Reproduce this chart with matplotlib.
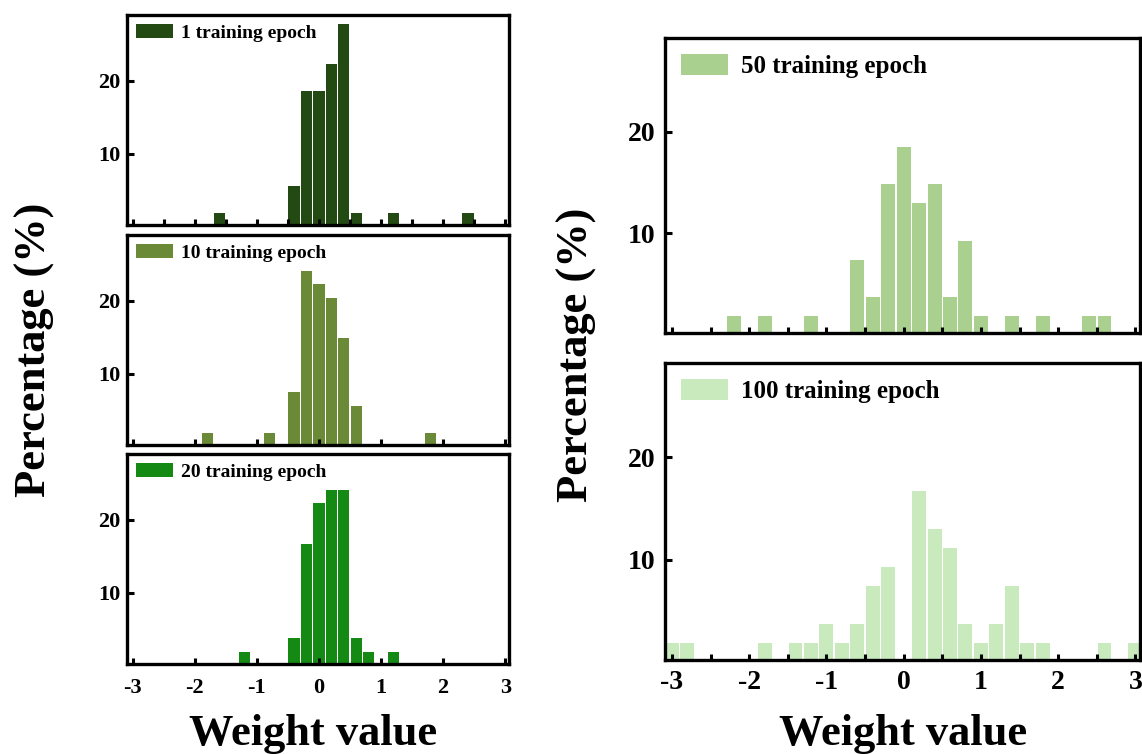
import matplotlib.pyplot as plt
from matplotlib.ticker import MultipleLocator

plt.rcParams['font.family'] = ['Liberation Serif', 'DejaVu Serif']
plt.rcParams['font.weight'] = 'bold'

# bin centres (weight value) and percentage of weights per bin
ep1_x = [-1.6, -0.4, -0.2, 0.0, 0.2, 0.4, 0.6, 1.2, 2.4]
ep1_y = [1.85, 5.56, 18.52, 18.52, 22.22, 27.78, 1.85, 1.85, 1.85]

ep10_x = [-1.8, -0.8, -0.4, -0.2, 0.0, 0.2, 0.4, 0.6, 1.8]
ep10_y = [1.85, 1.85, 7.41, 24.07, 22.22, 20.37, 14.81, 5.56, 1.85]

ep20_x = [-1.2, -0.4, -0.2, 0.0, 0.2, 0.4, 0.6, 0.8, 1.2]
ep20_y = [1.85, 3.70, 16.67, 22.22, 24.07, 24.07, 3.70, 1.85, 1.85]

ep50_x = [-2.2, -1.8, -1.2, -0.6, -0.4, -0.2, 0.0, 0.2, 0.4, 0.6, 0.8,
          1.0, 1.4, 1.8, 2.4, 2.6]
ep50_y = [1.85, 1.85, 1.85, 7.41, 3.70, 14.81, 18.52, 12.96, 14.81, 3.70,
          9.26, 1.85, 1.85, 1.85, 1.85, 1.85]

ep100_x = [-3.0, -2.8, -1.8, -1.4, -1.2, -1.0, -0.8, -0.6, -0.4, -0.2,
           0.2, 0.4, 0.6, 0.8, 1.0, 1.2, 1.4, 1.6, 1.8, 2.6, 3.0]
ep100_y = [1.85, 1.85, 1.85, 1.85, 1.85, 3.70, 1.85, 3.70, 7.41, 9.26,
           16.67, 12.96, 11.11, 3.70, 1.85, 3.70, 7.41, 1.85, 1.85, 1.85, 1.85]

xticks = [-3, -2, -1, 0, 1, 2, 3]
xticklabels = ['-3', '-2', '-1', '0', '1', '2', '3']
labels = ['1 training epoch', '10 training epoch', '20 training epoch',
          '50 training epoch', '100 training epoch']
colors = ['#244a14', '#6a8a38', '#148a14', '#a9d08e', '#c8eabd']

W, H = 1142, 754


def rect(l, t, r, b):
    return [l / W, 1 - b / H, (r - l) / W, (b - t) / H]


def panel(ax, x, y, color, label, big, xlabels, minor):
    ax.bar(x, y, width=0.18, color=color, edgecolor='none', label=label)
    ax.set_ylim(0.2, 29.2 if big else 29.0)
    ax.set_xlim(-3.09, 3.06)
    ax.set_xticks(xticks)
    if minor:
        ax.xaxis.set_minor_locator(MultipleLocator(0.5))
    ax.set_yticks([10, 20])
    for s in ax.spines.values():
        s.set_linewidth(2.4)
    fs = 20 if big else 16
    ax.tick_params(which='both', direction='in', width=2.2, length=4,
                   labelsize=fs, top=False, right=False)
    ax.tick_params(axis='y', length=5, pad=7 if big else 5)
    ax.tick_params(axis='x', pad=7 if big else 10)
    if not xlabels:
        ax.set_xticklabels([])
    else:
        ax.set_xticklabels(xticklabels)
    for t in ax.get_xticklabels() + ax.get_yticklabels():
        t.set_fontweight('bold')
    if big:
        ax.legend(loc='upper left', frameon=False,
                  handlelength=1.85, handleheight=0.9, handletextpad=0.55,
                  borderaxespad=0.25, borderpad=0.4,
                  prop={'weight': 'bold', 'size': 18})
    else:
        ax.legend(loc='upper left', frameon=False,
                  handlelength=1.9, handleheight=0.75, handletextpad=0.45,
                  borderaxespad=0.1, borderpad=0.35,
                  prop={'weight': 'bold', 'size': 14})


fig = plt.figure(figsize=(W / 100, H / 100), dpi=100)

ax1 = fig.add_axes(rect(127, 15, 509, 225))
ax2 = fig.add_axes(rect(127, 235, 509, 445))
ax3 = fig.add_axes(rect(127, 454, 509, 664))
ax4 = fig.add_axes(rect(665, 38, 1140, 333))
ax5 = fig.add_axes(rect(665, 363, 1140, 660))

panel(ax1, ep1_x, ep1_y, colors[0], labels[0], False, False, True)
panel(ax2, ep10_x, ep10_y, colors[1], labels[1], False, False, False)
panel(ax3, ep20_x, ep20_y, colors[2], labels[2], False, True, False)
panel(ax4, ep50_x, ep50_y, colors[3], labels[3], True, False, True)
panel(ax5, ep100_x, ep100_y, colors[4], labels[4], True, True, True)

fig.text(35 / W, 1 - 350 / H, 'Percentage (%)', rotation=90, fontsize=32,
         fontweight='bold', ha='center', va='center')
fig.text(577 / W, 1 - 355 / H, 'Percentage (%)', rotation=90, fontsize=32,
         fontweight='bold', ha='center', va='center')
fig.text(313 / W, 1 - 734 / H, 'Weight value', fontsize=32,
         fontweight='bold', ha='center', va='center')
fig.text(903 / W, 1 - 734 / H, 'Weight value', fontsize=32,
         fontweight='bold', ha='center', va='center')

fig.savefig('out.png', dpi=100)
